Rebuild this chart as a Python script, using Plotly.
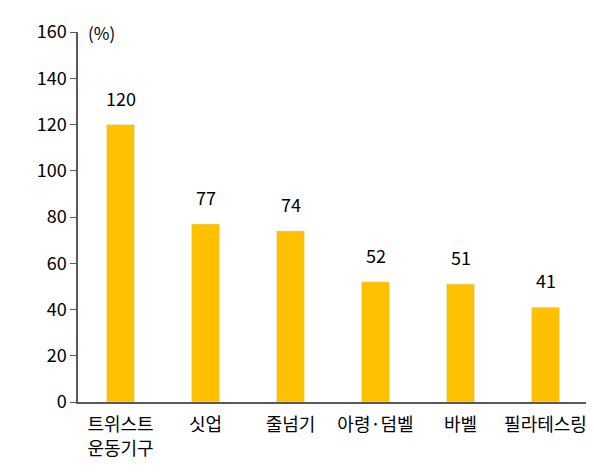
import plotly.graph_objs as go

categories = ["트위스트<br>운동기구", "싯업", "줄넘기", "아령·덤벨", "바벨", "필라테스링"]
values = [120, 77, 74, 52, 51, 41]
y_ticks = [0, 20, 40, 60, 80, 100, 120, 140, 160]

font_family = "Noto Sans CJK KR"

fig = go.Figure()
fig.add_trace(
    go.Bar(
        x=categories,
        y=values,
        marker=dict(color="#FFC000"),
        width=0.33,
        hoverinfo="x+y",
    )
)

# value labels floated a bit above each bar
for c, v in zip(categories, values):
    fig.add_annotation(
        x=c, y=v, text=str(v), showarrow=False,
        yanchor="bottom", yshift=12,
        font=dict(size=18, color="#000000"),
    )

fig.update_layout(
    width=594,
    height=475,
    margin=dict(l=70, r=14, t=24, b=81, autoexpand=False),
    plot_bgcolor="white",
    paper_bgcolor="white",
    font=dict(family=font_family, size=18, color="#000000"),
    showlegend=False,
)
fig.update_yaxes(
    range=[0, 160],
    tickvals=y_ticks,
    showgrid=False,
    showline=True,
    linecolor="#595959",
    linewidth=1.5,
    ticks="outside",
    ticklen=6,
    tickcolor="#595959",
    zeroline=False,
    automargin=False,
    tickfont=dict(size=18),
)
fig.update_xaxes(
    showline=True,
    linecolor="#595959",
    linewidth=1.5,
    ticks="",
    tickfont=dict(size=18),
    ticklabelstandoff=6,
    automargin=False,
)
fig.add_annotation(
    x=0.015, y=1.0, xref="paper", yref="paper",
    text="(%)", showarrow=False, xanchor="left", yanchor="middle",
    font=dict(size=17),
)

fig.write_html("out.html")
